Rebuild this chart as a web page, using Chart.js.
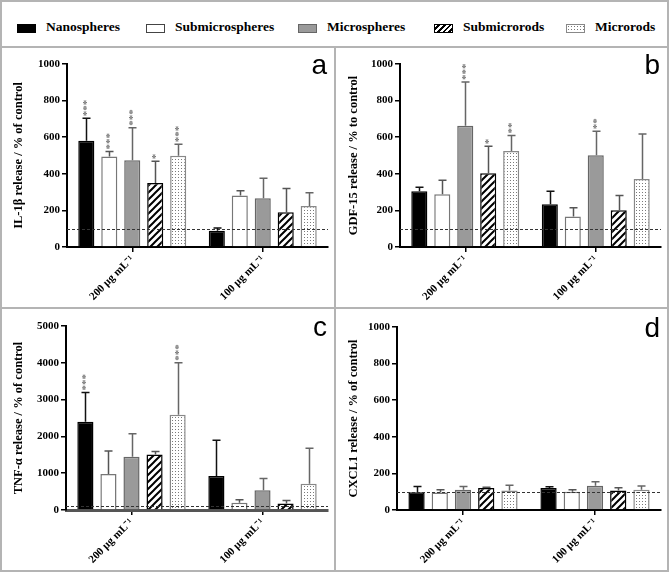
<!DOCTYPE html>
<html>
<head>
<meta charset="utf-8">
<script src="https://cdn.jsdelivr.net/npm/chart.js@4.4.1/dist/chart.umd.min.js"></script>
<style>
  body { margin: 0; background: #fff; }
  #frame { position: relative; width: 669px; height: 572px; background: #fff; overflow: hidden; }
  #frame canvas { position: absolute; }
  .rule { position: absolute; background: #b4b4b4; z-index: 2; }
  #outline { position: absolute; left: 0; top: 0; width: 669px; height: 572px; box-sizing: border-box; border: 2px solid #b4b4b4; z-index: 3; }
  .key { position: absolute; top: 19px; height: 18px; line-height: 18px; font: bold 13.5px "Liberation Serif", serif; white-space: nowrap; }
  .swatch { position: absolute; top: 5px; width: 19px; height: 9px; box-sizing: border-box; }
</style>
</head>
<body>
<div id="frame">
  <div id="legend"></div>
  <canvas id="chartA" width="335" height="261" style="left:0;top:47px"></canvas>
  <canvas id="chartB" width="334" height="261" style="left:335px;top:47px"></canvas>
  <canvas id="chartC" width="335" height="264" style="left:0;top:308px"></canvas>
  <canvas id="chartD" width="334" height="264" style="left:335px;top:308px"></canvas>
  <div class="rule" style="left:0;top:46px;width:669px;height:2px"></div>
  <div class="rule" style="left:0;top:307px;width:669px;height:2px"></div>
  <div class="rule" style="left:334px;top:46px;width:2px;height:526px"></div>
  <div id="outline"></div>
</div>
<script>
// ===========================
// DATA
// ===========================
const doses = ['200 µg mL⁻¹', '100 µg mL⁻¹'];
const particles = ['Nanospheres', 'Submicrospheres', 'Microspheres', 'Submicrorods', 'Microrods'];
const controlLevel = 100;

// each row = one particle type: [200 µg/mL, 100 µg/mL]
const il1bMean = [[580, 89], [494, 281], [474, 266], [350, 190], [498, 224]];
const il1bSd = [[124, 15], [28, 27], [177, 110], [119, 129], [64, 72]];
const il1bStars = [['***', ''], ['***', ''], ['***', ''], ['*', ''], ['***', '']];

const gdf15Mean = [[305, 234], [288, 166], [662, 502], [403, 201], [524, 372]];
const gdf15Sd = [[22, 71], [77, 49], [239, 131], [148, 80], [85, 245]];
const gdf15Stars = [['', ''], ['', ''], ['***', '**'], ['*', ''], ['**', '']];

const tnfMean = [[2400, 925], [980, 200], [1450, 535], [1510, 180], [2585, 716]];
const tnfSd = [[790, 970], [620, 80], [620, 320], [80, 75], [1415, 960]];
const tnfStars = [['***', ''], ['', ''], ['', ''], ['', ''], ['***', '']];

const cxcl1Mean = [[97, 120], [95, 100], [111, 133], [120, 106], [106, 111]];
const cxcl1Sd = [[32, 7], [16, 11], [17, 22], [5, 16], [29, 20]];
const cxcl1Stars = [['', ''], ['', ''], ['', ''], ['', ''], ['', '']];

// ===========================
// STYLES
// ===========================
const serif = '"Liberation Serif", "Times New Roman", serif';

function hatchPattern() {
  const c = document.createElement('canvas');
  c.width = 7; c.height = 7;
  const g = c.getContext('2d');
  g.fillStyle = '#fff';
  g.fillRect(0, 0, 7, 7);
  g.strokeStyle = '#000';
  g.lineWidth = 2;
  g.beginPath();
  g.moveTo(0, 7); g.lineTo(7, 0);
  g.moveTo(-1, 1); g.lineTo(1, -1);
  g.moveTo(6, 8); g.lineTo(8, 6);
  g.stroke();
  return g.createPattern(c, 'repeat');
}

function dotPattern() {
  const c = document.createElement('canvas');
  c.width = 3; c.height = 3;
  const g = c.getContext('2d');
  g.fillStyle = '#fff';
  g.fillRect(0, 0, 3, 3);
  g.fillStyle = '#7a7a7a';
  g.fillRect(1, 1, 1, 1);
  return g.createPattern(c, 'repeat');
}

const barStyles = [
  { fill: '#000', border: '#000', err: '#111' },
  { fill: '#fff', border: '#777', err: '#555' },
  { fill: '#9a9a9a', border: '#666', err: '#666' },
  { fill: hatchPattern(), border: '#000', err: '#555' },
  { fill: dotPattern(), border: '#888', err: '#666' }
];

// legend swatches (css)
const swatchCss = [
  'background:#000;border:1px solid #000',
  'background:#fff;border:1px solid #444',
  'background:#9a9a9a;border:1px solid #666',
  'background:repeating-linear-gradient(135deg,#fff 0 2px,#000 2px 4px);border:1.5px solid #000',
  'background:#fff radial-gradient(#777 0.7px, transparent 0.9px) 0 0/3px 3px;border:1px solid #888'
];
const legendX = [17, 146, 298, 434, 566];

// ===========================
// PLUGIN: control line, error bars, stars, panel letter
// ===========================
const extrasPlugin = {
  id: 'extras',
  afterDatasetsDraw(chart, args, opts) {
    const { ctx, chartArea, scales: { y } } = chart;

    // dashed control line at 100 %
    const yc = Math.round(y.getPixelForValue(controlLevel)) + 0.5;
    ctx.save();
    ctx.setLineDash([3, 2]);
    ctx.strokeStyle = '#333';
    ctx.lineWidth = 1;
    ctx.beginPath();
    ctx.moveTo(chartArea.left, yc);
    ctx.lineTo(chartArea.right, yc);
    ctx.stroke();
    ctx.restore();

    // upward error bars with caps, then significance stars
    chart.data.datasets.forEach((ds, i) => {
      chart.getDatasetMeta(i).data.forEach((bar, j) => {
        const yTop = y.getPixelForValue(ds.data[j] + ds.sd[j]);
        const x = Math.round(bar.x) + 0.5;
        ctx.save();
        ctx.strokeStyle = ds.errColor;
        ctx.lineWidth = 1.5;
        ctx.beginPath();
        ctx.moveTo(x, bar.y);
        ctx.lineTo(x, yTop);
        ctx.moveTo(x - 4, yTop);
        ctx.lineTo(x + 4, yTop);
        ctx.stroke();
        const s = ds.stars[j];
        if (s) {
          ctx.translate(x, yTop - 2);
          ctx.rotate(-Math.PI / 2);
          ctx.font = 'bold 11px ' + serif;
          ctx.fillStyle = '#777';
          ctx.textAlign = 'left';
          ctx.textBaseline = 'middle';
          ctx.fillText(s, 0, 1);
        }
        ctx.restore();
      });
    });

    // panel letter
    ctx.save();
    ctx.font = '28px "Liberation Sans", Arial, sans-serif';
    ctx.fillStyle = '#000';
    ctx.textAlign = 'right';
    ctx.textBaseline = 'alphabetic';
    ctx.fillText(opts.letter, chartArea.right - 1, chartArea.top + 10);
    ctx.restore();
  }
};

// ===========================
// CHART BUILDER
// ===========================
function makePanel(id, cfg) {
  const canvas = document.getElementById(id);
  const datasets = particles.map((name, i) => ({
    label: name,
    data: cfg.mean[i],
    sd: cfg.sd[i],
    stars: cfg.stars[i],
    backgroundColor: barStyles[i].fill,
    borderColor: barStyles[i].border,
    errColor: barStyles[i].err,
    borderWidth: 1.5,
    categoryPercentage: 0.88,
    barPercentage: 0.7
  }));

  return new Chart(canvas, {
    type: 'bar',
    data: { labels: doses, datasets },
    plugins: [extrasPlugin],
    options: {
      responsive: false,
      animation: false,
      layout: { padding: { top: cfg.top, right: cfg.right, left: 0, bottom: 0 } },
      plugins: {
        legend: { display: false },
        tooltip: { enabled: false },
        extras: { letter: cfg.letter }
      },
      scales: {
        x: {
          grid: { display: true, drawOnChartArea: false, offset: false, tickLength: 5, color: '#000', lineWidth: 1.5 },
          border: { color: cfg.xAxisColor || '#000', width: cfg.xAxisWidth || 2 },
          ticks: {
            color: '#000',
            font: { family: serif, weight: 'bold', size: 11 },
            minRotation: 45,
            maxRotation: 45,
            padding: 1
          },
          afterFit: s => { s.height = cfg.xHeight; }
        },
        y: {
          min: 0,
          max: cfg.max,
          ticks: {
            stepSize: cfg.step,
            color: '#000',
            font: { family: serif, weight: 'bold', size: 11 },
            padding: 2,
            callback: v => String(v)
          },
          grid: { drawOnChartArea: false, tickLength: 5, color: '#000', lineWidth: 1.5 },
          border: { color: '#000', width: 2 },
          title: {
            display: true,
            text: cfg.title,
            color: '#000',
            font: { family: serif, weight: 'bold', size: 12.5 },
            padding: { top: 11, bottom: 0 }
          },
          afterFit: s => { s.width = cfg.yWidth; }
        }
      }
    }
  });
}

// ===========================
// LEGEND
// ===========================
function buildLegend() {
  const legend = document.getElementById('legend');
  particles.forEach((name, i) => {
    const item = document.createElement('div');
    item.className = 'key';
    item.style.left = legendX[i] + 'px';
    item.style.paddingLeft = '29px';
    item.innerHTML = `<span class="swatch" style="left:0;${swatchCss[i]}"></span>${name}`;
    legend.appendChild(item);
  });
}

// ===========================
// INIT
// ===========================
buildLegend();

makePanel('chartA', {
  mean: il1bMean, sd: il1bSd, stars: il1bStars, letter: 'a',
  title: 'IL-1β release / % of control', max: 1000, step: 200,
  top: 17, right: 7, yWidth: 67, xHeight: 61
});

makePanel('chartB', {
  mean: gdf15Mean, sd: gdf15Sd, stars: gdf15Stars, letter: 'b',
  title: 'GDF-15 release / % to control', max: 1000, step: 200,
  top: 17, right: 8, yWidth: 65, xHeight: 61
});

makePanel('chartC', {
  mean: tnfMean, sd: tnfSd, stars: tnfStars, letter: 'c',
  title: 'TNF-α release / % of control', max: 5000, step: 1000,
  top: 18, right: 7, yWidth: 66, xHeight: 62, xAxisColor: '#555', xAxisWidth: 3
});

makePanel('chartD', {
  mean: cxcl1Mean, sd: cxcl1Sd, stars: cxcl1Stars, letter: 'd',
  title: 'CXCL1 release / % of control', max: 1000, step: 200,
  top: 19, right: 8, yWidth: 62, xHeight: 62
});
</script>
</body>
</html>
